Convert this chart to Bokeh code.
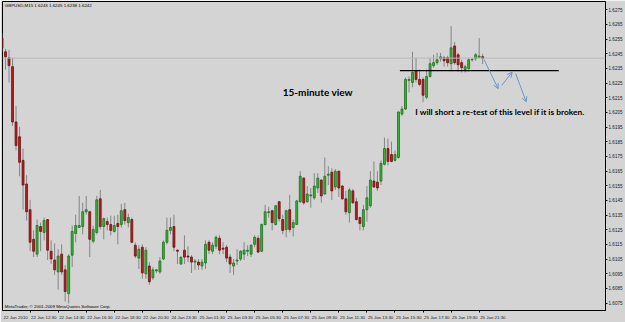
from bokeh.plotting import figure
from bokeh.models import (Range1d, FixedTicker, PrintfTickFormatter, Span, Label,
                          Arrow, OpenHead, ColumnDataSource)
from bokeh.embed import file_html
from bokeh.resources import INLINE

# ---------------- data (GBPUSD M15) ----------------
bars = list(range(138))
opens = [1.62557, 1.62463, 1.62422, 1.62362, 1.61985, 1.61884, 1.61723, 1.61562, 1.61387, 1.61185,
         1.61084, 1.61272, 1.61232, 1.61320, 1.61104, 1.61044, 1.60963, 1.61084, 1.60977, 1.60815,
         1.61077, 1.61225, 1.61266, 1.61272, 1.61373, 1.61373, 1.61172, 1.61232, 1.61461, 1.61272,
         1.61306, 1.61286, 1.61239, 1.61293, 1.61286, 1.61387, 1.61299, 1.61320, 1.61145, 1.61057,
         1.61131, 1.60950, 1.61003, 1.60923, 1.60970, 1.60963, 1.61051, 1.61165, 1.61246, 1.61272,
         1.61111, 1.61017, 1.61111, 1.61071, 1.61064, 1.61030, 1.61030, 1.61003, 1.61024, 1.61165,
         1.61104, 1.61138, 1.61192, 1.61125, 1.61131, 1.61064, 1.61003, 1.61037, 1.61051, 1.61084,
         1.61104, 1.61084, 1.61151, 1.61192, 1.61104, 1.61286, 1.61367, 1.61380, 1.61286, 1.61441,
         1.61320, 1.61252, 1.61387, 1.61266, 1.61286, 1.61441, 1.61602, 1.61441, 1.61481, 1.61468,
         1.61535, 1.61589, 1.61494, 1.61622, 1.61642, 1.61542, 1.61649, 1.61548, 1.61461, 1.61367,
         1.61515, 1.61441, 1.61333, 1.61272, 1.61387, 1.61414, 1.61582, 1.61575, 1.61582, 1.61696,
         1.61804, 1.61763, 1.61723, 1.61743, 1.62039, 1.62073, 1.62268, 1.62254, 1.62335, 1.62275,
         1.62275, 1.62153, 1.62295, 1.62369, 1.62389, 1.62416, 1.62422, 1.62422, 1.62382, 1.62503,
         1.62443, 1.62389, 1.62342, 1.62349, 1.62409, 1.62416, 1.62426, 1.62430]
highs = [1.62591, 1.62483, 1.62476, 1.62422, 1.62093, 1.61952, 1.61804, 1.61622, 1.61454, 1.61246,
         1.61320, 1.61299, 1.61333, 1.61320, 1.61178, 1.61158, 1.61118, 1.61151, 1.61010, 1.61084,
         1.61279, 1.61353, 1.61481, 1.61434, 1.61481, 1.61380, 1.61279, 1.61481, 1.61521, 1.61333,
         1.61333, 1.61346, 1.61346, 1.61353, 1.61427, 1.61434, 1.61360, 1.61333, 1.61165, 1.61145,
         1.61151, 1.61131, 1.61030, 1.60997, 1.60983, 1.61064, 1.61178, 1.61333, 1.61333, 1.61353,
         1.61118, 1.61064, 1.61212, 1.61138, 1.61077, 1.61051, 1.61051, 1.61051, 1.61178, 1.61178,
         1.61165, 1.61212, 1.61212, 1.61165, 1.61145, 1.61084, 1.61051, 1.61118, 1.61111, 1.61165,
         1.61145, 1.61151, 1.61212, 1.61212, 1.61293, 1.61420, 1.61407, 1.61387, 1.61420, 1.61447,
         1.61353, 1.61387, 1.61488, 1.61320, 1.61454, 1.61649, 1.61609, 1.61548, 1.61535, 1.61636,
         1.61636, 1.61595, 1.61743, 1.61683, 1.61669, 1.61663, 1.61655, 1.61555, 1.61515, 1.61535,
         1.61528, 1.61468, 1.61340, 1.61420, 1.61548, 1.61649, 1.61716, 1.61649, 1.61723, 1.61878,
         1.61871, 1.61851, 1.61790, 1.62056, 1.62093, 1.62288, 1.62295, 1.62463, 1.62422, 1.62342,
         1.62288, 1.62342, 1.62422, 1.62443, 1.62456, 1.62456, 1.62436, 1.62436, 1.62638, 1.62530,
         1.62456, 1.62409, 1.62375, 1.62422, 1.62422, 1.62456, 1.62557, 1.62450]
lows = [1.62463, 1.62342, 1.62254, 1.61958, 1.61790, 1.61615, 1.61387, 1.61313, 1.61104, 1.61064,
        1.61064, 1.61104, 1.61178, 1.61044, 1.61017, 1.60943, 1.60842, 1.60943, 1.60761, 1.60748,
        1.60997, 1.61165, 1.61266, 1.61219, 1.61353, 1.61064, 1.61158, 1.61219, 1.61252, 1.61185,
        1.61246, 1.61212, 1.61232, 1.61151, 1.61266, 1.61286, 1.61266, 1.61158, 1.61057, 1.60983,
        1.60916, 1.60916, 1.60876, 1.60909, 1.60956, 1.60950, 1.61044, 1.61151, 1.61219, 1.61104,
        1.61017, 1.61010, 1.61017, 1.61030, 1.60956, 1.60977, 1.60977, 1.60977, 1.60983, 1.61084,
        1.61084, 1.61118, 1.61084, 1.61084, 1.61030, 1.60956, 1.60943, 1.61010, 1.61037, 1.61044,
        1.61071, 1.61064, 1.61131, 1.61091, 1.61098, 1.61279, 1.61333, 1.61246, 1.61279, 1.61306,
        1.61219, 1.61199, 1.61232, 1.61205, 1.61286, 1.61434, 1.61420, 1.61434, 1.61400, 1.61454,
        1.61501, 1.61434, 1.61488, 1.61555, 1.61454, 1.61521, 1.61474, 1.61454, 1.61353, 1.61299,
        1.61427, 1.61313, 1.61246, 1.61246, 1.61306, 1.61400, 1.61535, 1.61515, 1.61555, 1.61689,
        1.61689, 1.61710, 1.61716, 1.61736, 1.62026, 1.62066, 1.62187, 1.62221, 1.62254, 1.62228,
        1.62120, 1.62140, 1.62288, 1.62355, 1.62375, 1.62396, 1.62362, 1.62362, 1.62328, 1.62375,
        1.62328, 1.62322, 1.62322, 1.62328, 1.62396, 1.62402, 1.62419, 1.62380]
closes = [1.62490, 1.62429, 1.62369, 1.61985, 1.61824, 1.61710, 1.61555, 1.61373, 1.61165, 1.61104,
          1.61279, 1.61239, 1.61313, 1.61111, 1.61051, 1.60977, 1.61071, 1.60963, 1.60829, 1.61071,
          1.61239, 1.61279, 1.61279, 1.61373, 1.61387, 1.61185, 1.61252, 1.61454, 1.61272, 1.61326,
          1.61286, 1.61246, 1.61279, 1.61272, 1.61380, 1.61313, 1.61333, 1.61165, 1.61071, 1.61118,
          1.60956, 1.61111, 1.60896, 1.60977, 1.60977, 1.61037, 1.61165, 1.61246, 1.61266, 1.61131,
          1.61104, 1.61064, 1.61064, 1.61064, 1.61030, 1.61037, 1.61010, 1.61030, 1.61151, 1.61111,
          1.61145, 1.61199, 1.61111, 1.61118, 1.61057, 1.61017, 1.61024, 1.61044, 1.61104, 1.61111,
          1.61111, 1.61145, 1.61199, 1.61098, 1.61286, 1.61373, 1.61373, 1.61299, 1.61414, 1.61326,
          1.61246, 1.61380, 1.61252, 1.61299, 1.61447, 1.61615, 1.61434, 1.61494, 1.61488, 1.61548,
          1.61602, 1.61481, 1.61615, 1.61629, 1.61515, 1.61649, 1.61535, 1.61461, 1.61373, 1.61521,
          1.61434, 1.61320, 1.61293, 1.61387, 1.61468, 1.61589, 1.61542, 1.61535, 1.61703, 1.61804,
          1.61716, 1.61716, 1.61763, 1.62053, 1.62073, 1.62275, 1.62275, 1.62322, 1.62275, 1.62241,
          1.62167, 1.62295, 1.62382, 1.62389, 1.62409, 1.62429, 1.62402, 1.62389, 1.62490, 1.62389,
          1.62375, 1.62355, 1.62362, 1.62409, 1.62412, 1.62443, 1.62434, 1.62420]

time_labels = ["22 Jan 2010", "22 Jan 12:30", "22 Jan 14:30", "22 Jan 16:30", "22 Jan 18:30",
               "22 Jan 20:30", "24 Jan 23:30", "25 Jan 01:30", "25 Jan 03:30", "25 Jan 05:30",
               "25 Jan 07:30", "25 Jan 09:30", "25 Jan 11:30", "25 Jan 13:30", "25 Jan 15:30",
               "25 Jan 17:30", "25 Jan 19:30", "25 Jan 21:30"]
label_bars = [0, 8, 16, 24, 32, 40, 48, 56, 64, 72, 80, 88, 96, 104, 112, 120, 128, 136]
price_ticks = [1.6075, 1.6085, 1.6095, 1.6105, 1.6115, 1.6125, 1.6135, 1.6145, 1.6155, 1.6165,
               1.6175, 1.6185, 1.6195, 1.6205, 1.6215, 1.6225, 1.6235, 1.6245, 1.6255, 1.6265,
               1.6275]
bid_price = 1.6242
level_price = 1.62335
level_start_bar = 113.4
level_end_bar = 158.7
title_text = "GBPUSD,M15  1.6243 1.6245 1.6238 1.6242"
copyright_text = "MetaTrader, \u00a9 2001-2009 MetaQuotes Software Corp."
note_view = "15-minute view"
note_plan = "I will short a re-test of this level if it is broken."
# projected path drawn with arrows: (bar, price) pairs
path_x = [137.4, 141.4, 142.4, 145.4, 146.4, 149.4]
path_y = [1.62409, 1.62212, 1.62234, 1.62324, 1.62315, 1.62122]

# ---------------- style ----------------
BG = "#d4d4d4"
BULL_FILL, BULL_LINE = "#35b835", "#1d6e1d"
BEAR_FILL, BEAR_LINE = "#b42222", "#6e1010"
WICK = "#858585"
ARROW = "#6f95c9"
TINY = "Liberation Sans"
X_END = 172.0

p = figure(width=625, height=322, output_backend="svg", toolbar_location=None,
           x_range=Range1d(0.14, X_END), y_range=Range1d(1.60700, 1.62806),
           y_axis_location="right", x_axis_location="below",
           background_fill_color=BG, border_fill_color=BG,
           min_border_left=2, min_border_top=1, min_border_right=0, min_border_bottom=0,
           outline_line_color="black", outline_line_width=1)
p.grid.visible = False

# right price axis
ya = p.yaxis[0]
ya.axis_label = None
ya.axis_label_standoff = 0
ya.ticker = FixedTicker(ticks=price_ticks, minor_ticks=[])
ya.formatter = PrintfTickFormatter(format="%.4f")
ya.major_label_text_font = TINY
ya.major_label_text_font_size = "4.6px"
ya.major_label_text_color = "#222222"
ya.major_label_standoff = 1
ya.major_tick_out = 2
ya.major_tick_in = 0
ya.axis_line_color = "black"
ya.major_tick_line_color = "black"

# bottom time axis: labels start at the tick (MT4 style)
xa = p.xaxis[0]
xa.axis_label = None
xa.axis_label_standoff = 0
offset = 3.9
lab_pos = [b + offset for b in label_bars]
xa.ticker = FixedTicker(ticks=lab_pos, minor_ticks=label_bars)
xa.major_label_overrides = {pos: t for pos, t in zip(lab_pos, time_labels)}
xa.major_label_text_font = TINY
xa.major_label_text_font_size = "4.4px"
xa.major_label_text_color = "#222222"
xa.major_label_standoff = 2
xa.major_tick_line_color = None
xa.major_tick_out = 0
xa.major_tick_in = 0
xa.minor_tick_line_color = "black"
xa.minor_tick_out = 2
xa.minor_tick_in = 0
xa.axis_line_color = "black"

# bid line
p.add_layout(Span(location=bid_price, dimension="width", line_color="#b9b9b9", line_width=1))

# candles
src = ColumnDataSource(dict(x=bars, o=opens, h=highs, l=lows, c=closes))
p.segment(x0="x", y0="l", x1="x", y1="h", source=src, line_color=WICK, line_width=1)
bx = [b for b, o, c in zip(bars, opens, closes) if c >= o]
bt = [c for o, c in zip(opens, closes) if c >= o]
bb = [o for o, c in zip(opens, closes) if c >= o]
rx = [b for b, o, c in zip(bars, opens, closes) if c < o]
rt = [o for o, c in zip(opens, closes) if c < o]
rb = [c for o, c in zip(opens, closes) if c < o]
p.vbar(x=bx, top=bt, bottom=bb, width=0.55, fill_color=BULL_FILL, line_color=BULL_LINE, line_width=0.8)
p.vbar(x=rx, top=rt, bottom=rb, width=0.55, fill_color=BEAR_FILL, line_color=BEAR_LINE, line_width=0.8)

# horizontal level
p.segment(x0=[level_start_bar], y0=[level_price], x1=[level_end_bar], y1=[level_price],
          line_color="black", line_width=1.4)

# projected path arrows
for i in range(0, len(path_x), 2):
    p.add_layout(Arrow(end=OpenHead(size=5, line_color=ARROW, line_width=1),
                       x_start=path_x[i], y_start=path_y[i], x_end=path_x[i + 1], y_end=path_y[i + 1],
                       line_color=ARROW, line_width=1))

# texts
p.add_layout(Label(x=80.0, y=1.62187, text=note_view, text_font="Lato", text_font_style="bold",
                   text_font_size="10px", text_color="black", text_baseline="middle"))
p.add_layout(Label(x=117.8, y=1.62053, text=note_plan, text_font="Lato", text_font_style="bold",
                   text_font_size="8.4px", text_color="black", text_baseline="middle"))
p.add_layout(Label(x=0.8, y=1.62779, text=title_text, text_font=TINY, text_font_size="4.4px",
                   text_color="black", text_baseline="middle"))
p.add_layout(Label(x=0.8, y=1.60728, text=copyright_text, text_font=TINY, text_font_size="4.4px",
                   text_color="black", text_baseline="middle"))
p.add_layout(Label(x=X_END, y=bid_price, text="1.6242", text_font=TINY, text_font_size="4.6px",
                   text_color="white", text_baseline="middle", x_offset=0.5,
                   background_fill_color="black"))

open("out.html", "w").write(file_html(p, INLINE))
